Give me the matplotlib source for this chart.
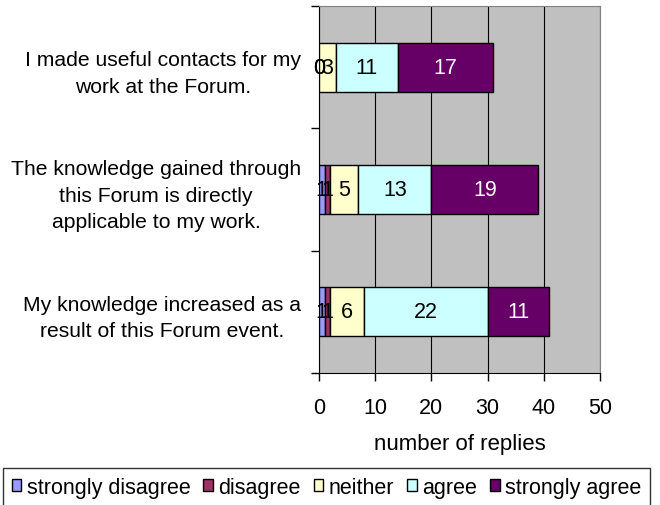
import matplotlib.pyplot as plt
import numpy as np

plt.rcParams['font.family'] = ['Liberation Sans', 'DejaVu Sans']

questions = ["I made useful contacts for my\nwork at the Forum.",
             "The knowledge gained through\nthis Forum is directly\napplicable to my work.",
             "My knowledge increased as a\nresult of this Forum event."]
answers = ["strongly disagree", "disagree", "neither", "agree", "strongly agree"]
strongly_disagree = [0, 1, 1]
disagree = [0, 1, 1]
neither = [3, 5, 6]
agree = [11, 13, 22]
strongly_agree = [17, 19, 11]
colors = ["#9999FF", "#993366", "#FFFFCC", "#CCFFFF", "#660066"]
label_colors = ["black", "black", "black", "black", "white"]

fs = 15.5

fig = plt.figure(figsize=(6.6, 5.06), dpi=100)
ax = fig.add_axes([319/660, 1 - 374/506, 281/660, 367/506])
ax.set_facecolor("#C0C0C0")

y = np.arange(len(questions))
left = np.zeros(len(questions))
series = [strongly_disagree, disagree, neither, agree, strongly_agree]
for vals, name, c, tc in zip(series, answers, colors, label_colors):
    vals = np.array(vals)
    ax.barh(y, vals, left=left, height=0.4, color=c, edgecolor="black",
            linewidth=1, label=name, zorder=3)
    for yi, v, l in zip(y, vals, left):
        ax.text(l + v / 2, yi, str(v), ha="center", va="center",
                fontsize=fs, color=tc, zorder=4)
    left += vals

ax.set_xlim(0, 50)
ax.set_ylim(2.5, -0.5)
ax.set_xticks(range(0, 51, 10))
ax.xaxis.grid(True, color="black", linewidth=0.8, zorder=1)
ax.set_axisbelow(True)

ax.set_yticks([-0.5, 0.5, 1.5, 2.5])
ax.set_yticklabels([])
ax.set_yticks(y, minor=True)
ax.set_yticklabels(questions, minor=True, fontsize=15.2, multialignment="center",
                   linespacing=1.5)
ax.tick_params(axis="y", which="minor", length=0, pad=13)
ax.tick_params(axis="y", which="major", length=6, width=1)
ax.tick_params(axis="x", length=6, width=1, labelsize=fs, pad=11)

for s in ["top", "right"]:
    ax.spines[s].set_color("#808080")
ax.spines["left"].set_color("black")
ax.spines["bottom"].set_color("black")

ax.set_xlabel("number of replies", fontsize=16, labelpad=11)

leg = fig.legend(loc="upper center", bbox_to_anchor=(0.4947, 1 - 469/506), ncol=5,
                 fontsize=fs, frameon=True, fancybox=False, edgecolor="black",
                 handlelength=0.45, handleheight=0.45, handletextpad=0.25,
                 columnspacing=0.6, borderpad=0.4, borderaxespad=0.0)
leg.get_frame().set_linewidth(1)

fig.savefig("out.png", dpi=100)
